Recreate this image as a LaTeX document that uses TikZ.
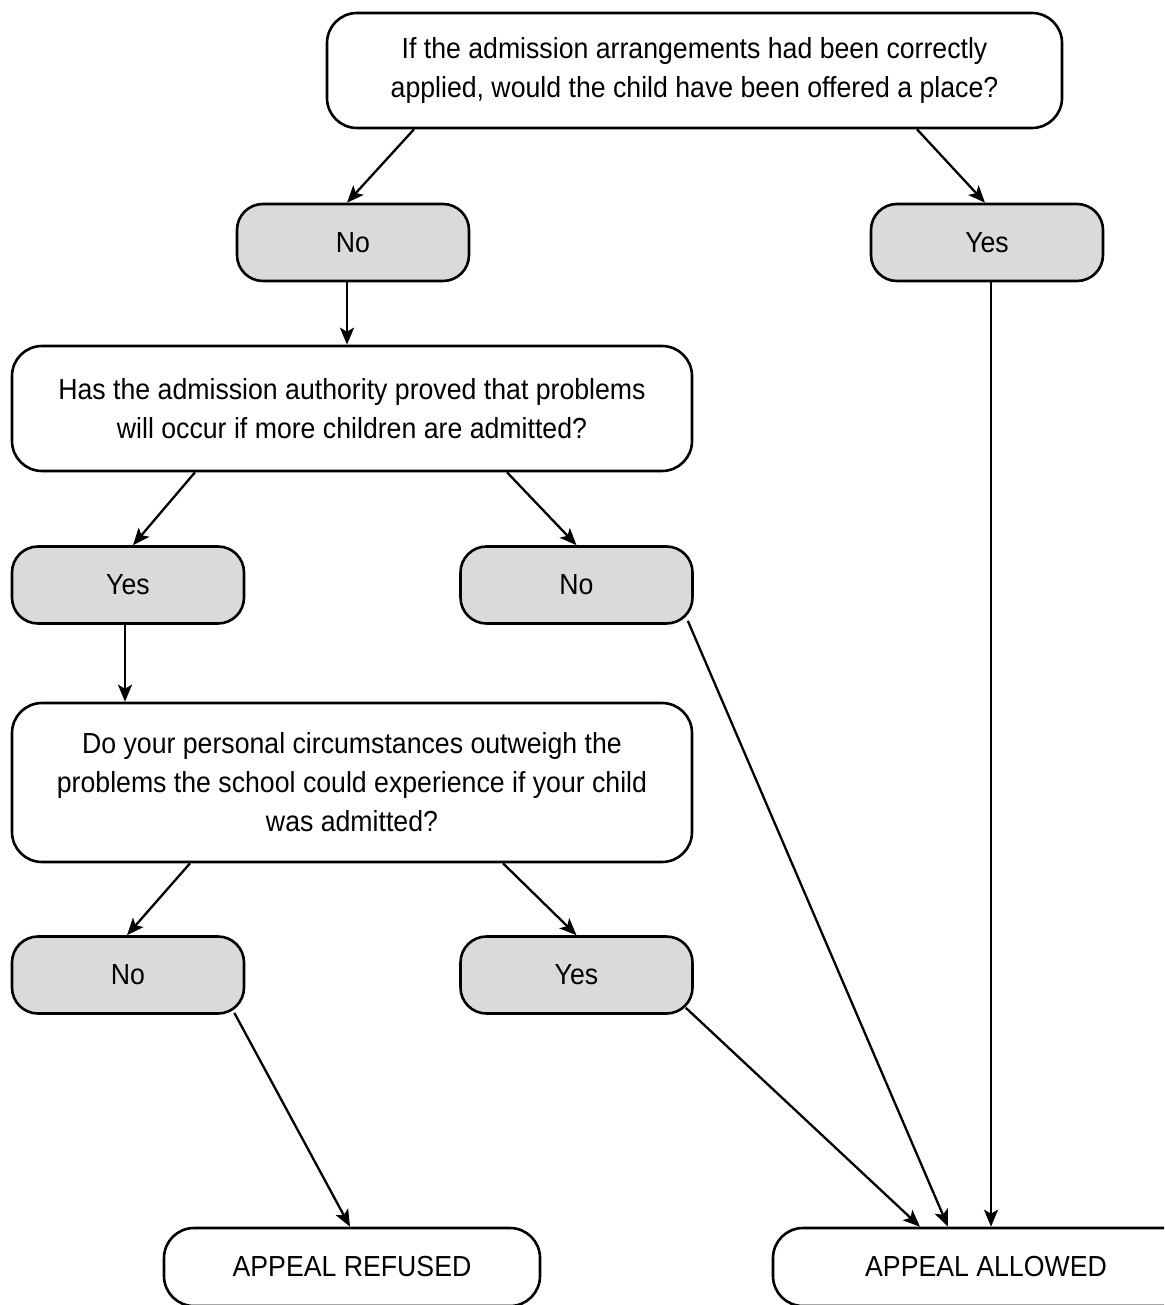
\documentclass[tikz,border=0pt]{standalone}
\usepackage{fontspec}
\setmainfont[FakeStretch=0.92]{Liberation Sans}
\usetikzlibrary{arrows.meta}
\definecolor{boxgray}{HTML}{D9DADC}
\begin{document}
\begin{tikzpicture}[x=1pt,y=-1pt,
  every node/.style={font=\fontsize{29}{39}\selectfont, align=center, inner sep=0pt},
  qbox/.style={draw, line width=2.6pt, fill=white, rounded corners=30pt, minimum width=#1},
  ansbox/.style={draw, line width=2.6pt, fill=boxgray, rounded corners=26pt, minimum width=232pt, minimum height=77pt},
  endbox/.style={draw, line width=2.6pt, fill=white, rounded corners=30pt, minimum height=78pt, minimum width=#1},
  arr/.style={line width=2.3pt, -{Stealth[length=17pt, width=14pt, inset=4pt]}}
]
\clip (0,0) rectangle (1164,1305);
\fill[white] (0,0) rectangle (1164,1305);

\node[qbox=735pt, minimum height=115pt] (q1) at (694.5,70.5) {If the admission arrangements had been correctly\\applied, would the child have been offered a place?};
\node[ansbox] (no1) at (353,242.5) {No};
\node[ansbox] (yes1) at (987,242.5) {Yes};
\node[qbox=680pt, minimum height=125pt] (q2) at (352,408.5) {Has the admission authority proved that problems\\will occur if more children are admitted?};
\node[ansbox] (yes2) at (128,585) {Yes};
\node[ansbox] (no2) at (576.5,585) {No};
\node[qbox=680pt, minimum height=159pt] (q3) at (352,782.5) {Do your personal circumstances outweigh the\\problems the school could experience if your child\\was admitted?};
\node[ansbox] (no3) at (128,975) {No};
\node[ansbox] (yes3) at (576.5,975) {Yes};
\node[endbox=376pt] (ref) at (352,1267) {APPEAL REFUSED};
\node[endbox=426pt] (all) at (986,1267) {APPEAL ALLOWED};

\draw[arr] ([xshift=-280.5pt]q1.south) -- ([xshift=-6pt]no1.north);
\draw[arr] ([xshift=222.5pt]q1.south) -- ([xshift=-2pt]yes1.north);
\draw[arr] ([xshift=-6pt]no1.south) -- ([xshift=-5pt]q2.north);
\draw[arr] ([xshift=-157pt]q2.south) -- ([xshift=5pt]yes2.north);
\draw[arr] ([xshift=155pt]q2.south) -- (no2.north);
\draw[arr] ([xshift=-3pt]yes2.south) -- ([xshift=-227pt]q3.north);
\draw[arr] ([xshift=-162pt]q3.south) -- ([xshift=-1pt]no3.north);
\draw[arr] ([xshift=151pt]q3.south) -- (yes3.north);
\draw[arr] ([xshift=-11pt,yshift=2pt]no3.south east) -- ([xshift=-2pt]ref.north);
\draw[arr] ([xshift=-8pt,yshift=7pt]yes3.south east) -- ([xshift=-66pt]all.north);
\draw[arr] ([xshift=-6pt,yshift=4pt]no2.south east) -- ([xshift=-38pt]all.north);
\draw[arr] ([xshift=4pt]yes1.south) -- ([xshift=5pt]all.north);
\end{tikzpicture}
\end{document}
